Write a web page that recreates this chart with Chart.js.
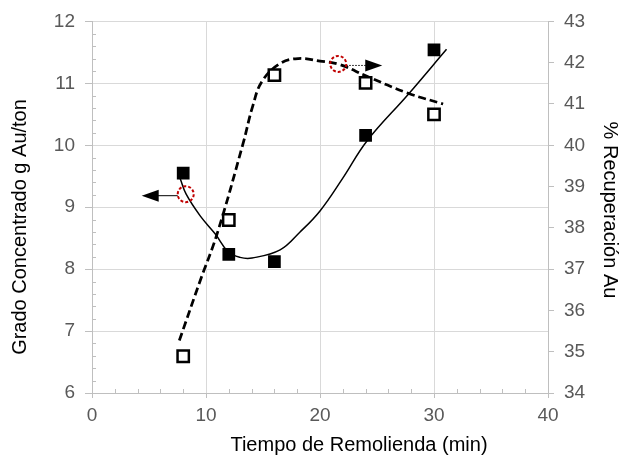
<!DOCTYPE html>
<html>
<head>
<meta charset="utf-8">
<script src="https://cdn.jsdelivr.net/npm/chart.js@4.4.1/dist/chart.umd.min.js"></script>
<style>
  html, body { margin: 0; padding: 0; background: #fff; }
  #wrap { width: 622px; height: 460px; }
</style>
</head>
<body>
<div id="wrap"><canvas id="chart"></canvas></div>
<script>
// measured points
const tiempo = [8, 12, 16, 24, 30];
const grado = [9.55, 8.24, 8.12, 10.16, 11.54];
const recuperacion = [34.89, 38.19, 41.70, 41.51, 40.75];

// trend curves
const gradoTrendX = [7.74, 8.26, 9.49, 10.8, 11.94, 12.99, 14.04, 16.5, 18.25, 20.0, 22.0, 24.12, 27.73, 31.1];
const gradoTrendY = [9.46, 9.21, 8.86, 8.57, 8.28, 8.19, 8.18, 8.31, 8.6, 8.94, 9.47, 10.07, 10.82, 11.55];
const recTrendX = [7.66, 9.49, 10.98, 13.26, 14.1, 14.92, 16.5, 18.08, 20.0, 21.67, 24.12, 27.73, 30.8];
const recTrendY = [35.27, 36.72, 37.86, 40.05, 40.95, 41.55, 41.98, 42.1, 42.04, 41.96, 41.67, 41.26, 41.0];

// dashed red circles with arrows (which axis they point to)
const marcaX = [8.22, 21.6];
const marcaY = [9.21, 41.97];
const marcaEje = ['y', 'y1'];
const marcaDir = [-1, 1];

const xTitle = 'Tiempo de Remolienda (min)';
const yTitle = 'Grado Concentrado g Au/ton';
const y1Title = '% Recuperación Au';

const toPts = (xs, ys) => xs.map((x, i) => ({ x: x, y: ys[i] }));

Chart.defaults.font.family = "'Liberation Sans', Arial, sans-serif";
Chart.defaults.color = '#595959';

const extras = {
  id: 'extras',
  afterDraw(chart) {
    const ctx = chart.ctx;
    const xs = chart.scales.x, ys = chart.scales.y;
    const area = chart.chartArea;
    ctx.save();
    // minor ticks, inside the plot
    ctx.strokeStyle = '#bfbfbf';
    ctx.lineWidth = 1;
    ctx.beginPath();
    for (let v = 6.2; v < 12; v += 0.2) {
      if (Math.abs(v - Math.round(v)) < 0.01) continue;
      const py = Math.round(ys.getPixelForValue(v)) + 0.5;
      ctx.moveTo(area.left, py);
      ctx.lineTo(area.left + 4, py);
    }
    for (let v = 2; v < 40; v += 2) {
      if (v % 10 === 0) continue;
      const px = Math.round(xs.getPixelForValue(v)) + 0.5;
      ctx.moveTo(px, area.bottom);
      ctx.lineTo(px, area.bottom - 4);
    }
    ctx.stroke();

    // circles and arrows
    for (let i = 0; i < marcaX.length; i++) {
      const cx = xs.getPixelForValue(marcaX[i]);
      const cy = chart.scales[marcaEje[i]].getPixelForValue(marcaY[i]);
      const d = marcaDir[i];
      const ay = cy + 1.5;
      ctx.strokeStyle = '#000';
      ctx.fillStyle = '#000';
      ctx.lineWidth = 1;
      ctx.setLineDash(d > 0 ? [1.5, 1.5] : []);
      ctx.beginPath();
      ctx.moveTo(cx + d * 8, ay);
      ctx.lineTo(cx + d * 28, ay);
      ctx.stroke();
      ctx.setLineDash([]);
      ctx.beginPath();
      ctx.moveTo(cx + d * 27, ay - 6);
      ctx.lineTo(cx + d * 44, ay);
      ctx.lineTo(cx + d * 27, ay + 6);
      ctx.closePath();
      ctx.fill();

      ctx.strokeStyle = '#c00000';
      ctx.lineWidth = 2;
      ctx.setLineDash([3, 2]);
      ctx.beginPath();
      ctx.arc(cx, cy, 8, 0, Math.PI * 2);
      ctx.stroke();
      ctx.setLineDash([]);
    }

    // axis titles
    ctx.fillStyle = '#000';
    ctx.font = "20px 'Liberation Sans', Arial, sans-serif";
    ctx.textAlign = 'center';
    ctx.textBaseline = 'middle';
    ctx.fillText(xTitle, 359, 445);
    ctx.save();
    ctx.translate(20, 227);
    ctx.rotate(-Math.PI / 2);
    ctx.fillText(yTitle, 0, 0);
    ctx.restore();
    ctx.save();
    ctx.translate(610, 210);
    ctx.rotate(Math.PI / 2);
    ctx.fillText(y1Title, 0, 0);
    ctx.restore();
    ctx.restore();
  }
};

new Chart(document.getElementById('chart'), {
  type: 'scatter',
  data: {
    datasets: [
      {
        label: 'Grado',
        data: toPts(tiempo, grado),
        yAxisID: 'y',
        pointStyle: 'rect',
        pointRadius: 9,
        pointHoverRadius: 9,
        backgroundColor: '#000',
        borderWidth: 0,
        order: 0
      },
      {
        label: 'Recuperación',
        data: toPts(tiempo, recuperacion),
        yAxisID: 'y1',
        pointStyle: 'rect',
        pointRadius: 8,
        pointHoverRadius: 8,
        backgroundColor: '#fff',
        borderColor: '#000',
        borderWidth: 2.5,
        order: 0
      },
      {
        label: 'Tendencia grado',
        data: toPts(gradoTrendX, gradoTrendY),
        yAxisID: 'y',
        showLine: true,
        pointRadius: 0,
        borderColor: '#000',
        borderWidth: 1.5,
        tension: 0.4,
        order: 1
      },
      {
        label: 'Tendencia recuperación',
        data: toPts(recTrendX, recTrendY),
        yAxisID: 'y1',
        showLine: true,
        pointRadius: 0,
        borderColor: '#000',
        borderWidth: 2.75,
        borderDash: [8, 4],
        tension: 0.4,
        order: 1
      }
    ]
  },
  options: {
    responsive: true,
    maintainAspectRatio: false,
    animation: false,
    layout: { padding: { top: 20, right: 0, left: 0, bottom: 0 } },
    plugins: { legend: { display: false }, tooltip: { enabled: false } },
    scales: {
      x: {
        type: 'linear',
        min: 0, max: 40,
        ticks: { stepSize: 10, font: { size: 19 }, padding: 6, color: '#595959' },
        grid: { color: '#d9d9d9', tickColor: '#bfbfbf', tickLength: 5 },
        border: { color: '#bfbfbf' },
        afterFit(s) { s.height = 67; }
      },
      y: {
        position: 'left',
        min: 6, max: 12,
        ticks: { stepSize: 1, font: { size: 19 }, padding: 10, color: '#595959' },
        grid: { color: '#d9d9d9', tickColor: '#bfbfbf', tickLength: 7 },
        border: { color: '#bfbfbf' },
        afterFit(s) { s.width = 92; }
      },
      y1: {
        position: 'right',
        min: 34, max: 43,
        ticks: { stepSize: 1, font: { size: 19 }, padding: 10, color: '#595959' },
        grid: { drawOnChartArea: false, tickColor: '#bfbfbf', tickLength: 6 },
        border: { color: '#bfbfbf' },
        afterFit(s) { s.width = 74; }
      }
    }
  },
  plugins: [extras]
});
</script>
</body>
</html>
